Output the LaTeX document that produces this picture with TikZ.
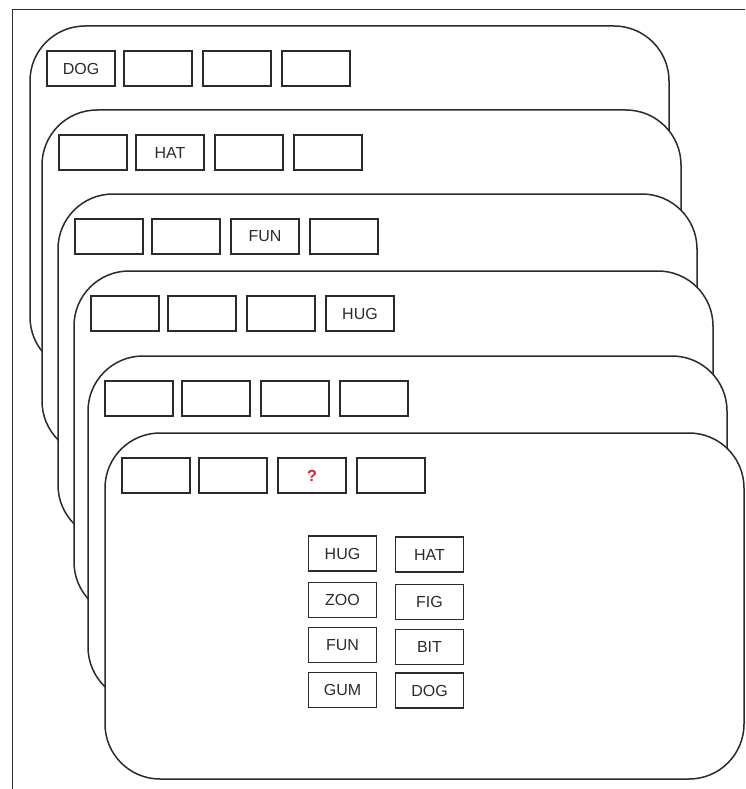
\documentclass[tikz,border=0pt]{standalone}
\usepackage{fontspec}
\setmainfont{Liberation Sans}
\definecolor{ink}{HTML}{2B2B2B}
\definecolor{qred}{HTML}{E8161B}
\tikzset{
  card/.style={draw=ink, line width=1.5pt, fill=white, rounded corners=55pt,
    minimum width=639pt, minimum height=346pt, anchor=north west,
    inner sep=0pt, outer sep=0pt},
  slot/.style={draw=ink, line width=1.4pt, fill=white, minimum width=68pt,
    minimum height=35pt, inner sep=0pt, outer sep=0pt},
  lbl/.style={text=ink, font=\fontsize{16}{19}\selectfont, inner sep=0pt},
  qlbl/.style={text=qred, font=\fontsize{16}{19}\selectfont\bfseries, inner sep=0pt},
  frame/.style={draw=ink, line width=1pt}
}
\begin{document}
\begin{tikzpicture}[x=1pt,y=-1pt]
\useasboundingbox (0,0) rectangle (745,789);
\coordinate (fb) at (12,789);
\coordinate (fc) at (12,10);
\coordinate (fr) at (745,10);
\draw[frame] (fb) -- (fc) -- (fr);
\foreach \i/\x/\y in {1/30/26,2/42/110,3/58/194,4/74/271,5/88/356,6/105/433}{
  \node[card] (c\i) at (\x,\y) {};
  \foreach \j/\o in {1/51,2/128,3/207,4/286}{
    \node[slot] (s\i\j) at (\x+\o,\y+42.5) {};
  }
}
\node[lbl] (t1) at (s11) {DOG};
\node[lbl] (t2) at (s22) {HAT};
\node[lbl] (t3) at (s33) {FUN};
\node[lbl] (t4) at (s44) {HUG};
\node[qlbl] (t6) at (s63) {?};
% word choices
\node[slot] (w1) at (342.5,553.5) {}; \node[lbl] at (w1) {HUG};
\node[slot] (w2) at (429.5,554.5) {}; \node[lbl] at (w2) {HAT};
\node[slot] (w3) at (342.5,600) {}; \node[lbl] at (w3) {ZOO};
\node[slot] (w4) at (429.5,602) {}; \node[lbl] at (w4) {FIG};
\node[slot] (w5) at (342.5,645) {}; \node[lbl] at (w5) {FUN};
\node[slot] (w6) at (429.5,647) {}; \node[lbl] at (w6) {BIT};
\node[slot] (w7) at (342.5,690) {}; \node[lbl] at (w7) {GUM};
\node[slot] (w8) at (429.5,690.5) {}; \node[lbl] at (w8) {DOG};
\end{tikzpicture}
\end{document}
